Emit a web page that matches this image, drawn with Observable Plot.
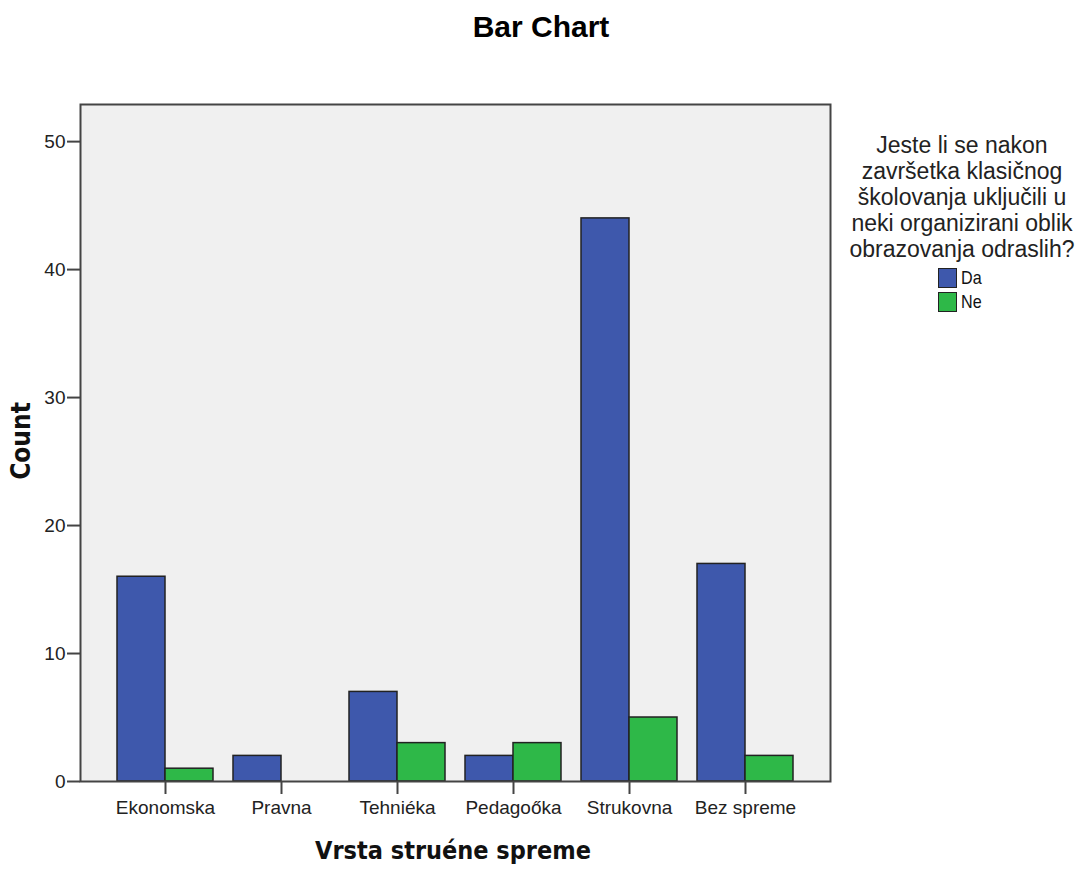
<!DOCTYPE html>
<html>
<head>
<meta charset="utf-8">
<script src="https://cdn.jsdelivr.net/npm/d3@7"></script>
<script src="https://cdn.jsdelivr.net/npm/@observablehq/plot@0.6"></script>
<style>
  html, body { margin: 0; padding: 0; background: #fff; }
  #wrap { position: relative; width: 1087px; height: 870px; overflow: hidden; font-family: "Liberation Sans", Arial, sans-serif; }
  #chart { position: absolute; left: 0; top: 0; }
  .title { position: absolute; left: 341px; width: 400px; top: 9px; text-align: center; font-weight: bold; font-size: 30px; line-height: 36px; color: #000; }
  .xlab { position: absolute; left: 203px; width: 500px; top: 836px; text-align: center; font-family: "DejaVu Sans Condensed", "DejaVu Sans", sans-serif; font-stretch: condensed; font-weight: bold; font-size: 25px; line-height: 30px; color: #111; }
  .ylab { position: absolute; left: 21px; top: 441px; transform: translate(-50%, -50%) rotate(-90deg); white-space: nowrap; font-family: "DejaVu Sans Condensed", "DejaVu Sans", sans-serif; font-stretch: condensed; font-weight: bold; font-size: 26px; line-height: 30px; color: #111; }
  .legtitle { position: absolute; left: 842px; width: 240px; top: 132px; text-align: center; font-size: 23px; line-height: 26px; color: #222; }
  .legitem { position: absolute; left: 938px; height: 20px; display: flex; align-items: center; }
  .sw { width: 17px; height: 18px; border: 1px solid #222; }
  .lt { font-size: 19px; margin-left: 4px; transform: scaleX(0.85); transform-origin: left center; color: #111; }
</style>
</head>
<body>
<div id="wrap">
  <div id="chart"></div>
</div>
<script>
const categories = ["Ekonomska", "Pravna", "Tehniéka", "Pedagoőka", "Strukovna", "Bez spreme"];
const series = ["Da", "Ne"];
const daValues = [16, 2, 7, 2, 44, 17];
const neValues = [1, 0, 3, 3, 5, 2];
const yTicks = [0, 10, 20, 30, 40, 50];
const colors = ["#3E58AC", "#2EB848"];
const chartTitle = "Bar Chart";
const xTitle = "Vrsta struéne spreme";
const yTitle = "Count";
const legendTitleLines = ["Jeste li se nakon", "završetka klasičnog", "školovanja uključili u", "neki organizirani oblik", "obrazovanja odraslih?"];

const data = [];
categories.forEach((c, i) => {
  data.push({cat: c, series: "Da", value: daValues[i]});
  data.push({cat: c, series: "Ne", value: neValues[i]});
});

// outer gap between plot frame and first/last facet band
const outerGap = 37;

const chart = Plot.plot({
  width: 1087,
  height: 870,
  marginLeft: 80,
  marginRight: 256,
  marginTop: 104,
  marginBottom: 89,
  style: {fontFamily: "'Liberation Sans', Arial, sans-serif", fontSize: "19px", color: "#222", background: "transparent"},
  fx: {domain: categories, paddingInner: 0.17, paddingOuter: 0.32, label: null},
  x: {domain: series, padding: 0, axis: null},
  y: {domain: [0, 52.9], label: null},
  color: {domain: series, range: colors},
  marks: [
    Plot.frame({facet: "super", fill: "#F0F0F0", stroke: "none", insetLeft: -outerGap, insetRight: -outerGap}),
    Plot.barY(data, {fx: "cat", x: "series", y: "value", fill: "series", stroke: "#222", strokeWidth: 1.5, inset: 0}),
    Plot.frame({facet: "super", stroke: "#444", strokeWidth: 2, insetLeft: -outerGap, insetRight: -outerGap}),
    Plot.axisY({ticks: yTicks, tickSize: 13, tickPadding: 2, label: null, stroke: "#444", strokeWidth: 2, fontSize: 19, dx: -outerGap}),
    Plot.axisFx({anchor: "bottom", tickSize: 13, tickPadding: 6, label: null, stroke: "#444", strokeWidth: 2, fontSize: 19})
  ]
});
document.getElementById("chart").appendChild(chart);

const wrap = document.getElementById("wrap");
function addDiv(cls, html, style) {
  const d = document.createElement("div");
  d.className = cls;
  d.innerHTML = html;
  if (style) Object.assign(d.style, style);
  wrap.appendChild(d);
  return d;
}
addDiv("title", chartTitle);
addDiv("xlab", xTitle);
addDiv("ylab", yTitle);
addDiv("legtitle", legendTitleLines.join("<br>"));
series.forEach((s, i) => {
  addDiv("legitem", `<div class="sw" style="background:${colors[i]}"></div><span class="lt">${s}</span>`, {top: (268 + i * 24) + "px"});
});
</script>
</body>
</html>
